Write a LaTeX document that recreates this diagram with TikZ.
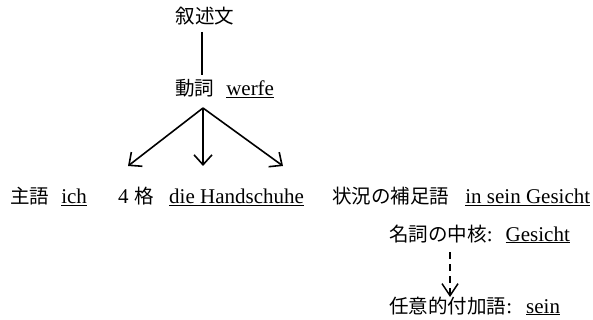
\documentclass[tikz,border=0pt]{standalone}
\usepackage{fontspec}
\setmainfont{Liberation Serif}
\newfontfamily\jp[Scale=0.93]{Noto Sans CJK JP}
\usetikzlibrary{arrows.meta}
\tikzset{
  lbl/.style={inner sep=0pt, anchor=base west, font=\fontsize{21}{25}\selectfont},
  arr/.style={line width=1.6pt, -{Straight Barb[length=10pt,width=18pt,line width=1.6pt]}},
  dasharr/.style={line width=1.6pt, dash pattern=on 7pt off 5pt, -{Straight Barb[length=12pt,width=16pt,line width=1.5pt]}},
  plain/.style={line width=1.3pt}
}
\begin{document}
\begin{tikzpicture}[x=1pt,y=-1pt]
\useasboundingbox (0,0) rectangle (593,320);
\node[lbl, anchor=center] (top) at (205,16) {\jp 叙述文};
\node[lbl] (verb) at (175,96) {{\jp 動詞}\hspace{12pt}\underline{werfe}};
\node[lbl] (subj) at (10,204) {{\jp 主語}\hspace{12pt}\underline{ich}};
\node[lbl] (akk) at (118,204) {4\hspace{6pt}{\jp 格}\hspace{15pt}\underline{die Handschuhe}};
\node[lbl] (sit) at (332,204) {{\jp 状況の補足語}\hspace{16pt}\underline{in sein Gesicht}};
\node[lbl] (kern) at (389,241) {{\jp 名詞の中核}:\hspace{13pt}\underline{Gesicht}};
\node[lbl] (attr) at (389,313) {{\jp 任意的付加語}:\hspace{14pt}\underline{sein}};
\coordinate (apex) at (203,108);
\coordinate (tl) at (128,166);
\coordinate (tm) at (203,166);
\coordinate (tr) at (283,166);
\coordinate (dtop) at (450,252);
\coordinate (dbot) at (450,297);
\draw[plain] (202,32) -- (202,75);
\draw[arr] (apex) -- (tl);
\draw[arr] (apex) -- (tm);
\draw[arr] (apex) -- (tr);
\draw[dasharr] (dtop) -- (dbot);
\end{tikzpicture}
\end{document}
